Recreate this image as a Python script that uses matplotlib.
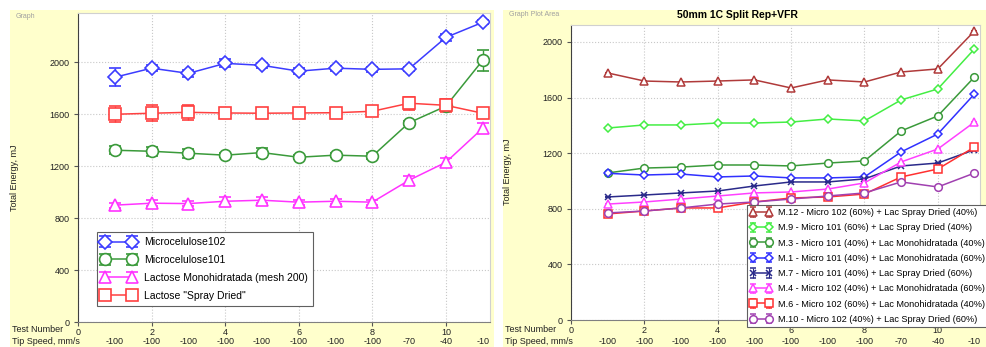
import matplotlib as mpl
import matplotlib.pyplot as plt
from matplotlib.patches import Rectangle
import numpy as np

plt.rcParams['font.family'] = ['Liberation Sans', 'DejaVu Sans']

# --- data -------------------------------------------------------------
test_number = [1, 2, 3, 4, 5, 6, 7, 8, 9, 10, 11]
tip_speed = ['-100', '-100', '-100', '-100', '-100', '-100', '-100', '-100', '-70', '-40', '-10']

# left chart: pure excipients with error bars
micro102 = [1885, 1955, 1915, 1992, 1977, 1932, 1955, 1946, 1950, 2192, 2308]
micro102_err = [70, 25, 25, 30, 20, 25, 20, 20, 15, 30, 15]
micro101 = [1323, 1315, 1300, 1285, 1305, 1269, 1285, 1277, 1535, 1662, 2015]
micro101_err = [30, 35, 35, 15, 35, 15, 15, 25, 15, 20, 80]
lac_mono = [900, 915, 912, 930, 938, 923, 930, 923, 1092, 1230, 1492]
lac_mono_err = [20, 25, 20, 30, 25, 20, 20, 20, 35, 30, 40]
lac_spray = [1600, 1608, 1615, 1610, 1608, 1610, 1612, 1623, 1685, 1669, 1608]
lac_spray_err = [60, 60, 60, 40, 40, 30, 30, 30, 50, 50, 30]

left_names = ['Microcelulose102', 'Microcelulose101',
              'Lactose Monohidratada (mesh 200)', 'Lactose "Spray Dried"']

# right chart: blends
m12 = [1777, 1719, 1712, 1719, 1727, 1669, 1727, 1712, 1784, 1806, 2079]
m9 = [1381, 1403, 1403, 1417, 1417, 1424, 1446, 1432, 1583, 1662, 1950]
m3 = [1058, 1093, 1100, 1115, 1115, 1108, 1129, 1144, 1360, 1468, 1748]
m1 = [1055, 1043, 1050, 1029, 1036, 1022, 1022, 1029, 1209, 1338, 1626]
m7 = [885, 899, 914, 928, 964, 993, 993, 1015, 1108, 1129, 1225]
m4 = [834, 849, 870, 892, 914, 921, 942, 986, 1137, 1230, 1424]
m6 = [763, 784, 806, 806, 849, 878, 885, 906, 1029, 1086, 1244]
m10 = [770, 784, 806, 834, 849, 870, 892, 914, 993, 957, 1057]

right_names = ['M.12 - Micro 102 (60%) + Lac Spray Dried (40%)',
               'M.9 - Micro 101 (60%) + Lac Spray Dried (40%)',
               'M.3 - Micro 101 (40%) + Lac Monohidratada (40%)',
               'M.1 - Micro 101 (40%) + Lac Monohidratada (60%)',
               'M.7 - Micro 101 (40%) + Lac Spray Dried (60%)',
               'M.4 - Micro 102 (40%) + Lac Monohidratada (60%)',
               'M.6 - Micro 102 (60%) + Lac Monohidratada (40%)',
               'M.10 - Micro 102 (40%) + Lac Spray Dried (60%)']

# --- figure -----------------------------------------------------------
W, H = 987, 347
fig = plt.figure(figsize=(W / 100, H / 100), dpi=100)
fig.patch.set_facecolor('white')

panel_yellow = '#FFFFCC'
text_col = '#222222'


def px_rect(x0, y0, x1, y1):
    return (x0 / W, 1 - y1 / H, (x1 - x0) / W, (y1 - y0) / H)


for (x0, y0, x1, y1) in [(10, 10, 494, 347), (503, 10, 987, 347)]:
    l, b, w, h = px_rect(x0, y0, x1, y1)
    fig.patches.append(Rectangle((l, b), w, h, transform=fig.transFigure,
                                 facecolor=panel_yellow, edgecolor='none', zorder=-10))

ax1 = fig.add_axes(px_rect(78, 13, 490, 322))
ax2 = fig.add_axes(px_rect(571, 25, 980, 320))
ax1.set_zorder(2)
ax2.set_zorder(2)

NUM_ROW_Y = 330
TIP_ROW_Y = 342


def style_axes(ax, xmax, ymax, bottom_px, height_px):
    ax.set_facecolor('white')
    ax.set_xlim(0, xmax)
    ax.set_ylim(0, ymax)
    ax.set_xticks([0, 2, 4, 6, 8, 10])
    ax.set_yticks([0, 400, 800, 1200, 1600, 2000])
    ax.tick_params(labelsize=6.5, length=3, width=0.8, color='#555555', pad=3,
                   labelcolor=text_col)
    ax.tick_params(axis='x', pad=1.0)
    ax.grid(True, linestyle=':', color='#C8C8C8', linewidth=0.8)
    ax.set_axisbelow(True)
    for side in ['top', 'right']:
        ax.spines[side].set_color('#D0D0D0')
    ax.spines['left'].set_color('#404040')
    ax.spines['bottom'].set_color('#808080')
    # second row of x labels: tip speed
    yrow = -(TIP_ROW_Y - bottom_px) / height_px
    for x, s in zip(test_number, tip_speed):
        ax.text(x, yrow, s, transform=ax.get_xaxis_transform(), ha='center',
                va='center', fontsize=6.5, color=text_col, clip_on=False)


style_axes(ax1, 11.2, 2380, 322, 309)
style_axes(ax2, 11.15, 2122, 320, 295)

# --- left chart -------------------------------------------------------
left_series = [
    (micro102, micro102_err, '#3C3CFF', 'D', 7),
    (micro101, micro101_err, '#3A9A3A', 'o', 8.5),
    (lac_mono, lac_mono_err, '#FF33FF', '^', 8.5),
    (lac_spray, lac_spray_err, '#FF4040', 's', 9),
]
for (vals, err, col, mk, ms), name in zip(left_series, left_names):
    ax1.errorbar(test_number, vals, yerr=err, color=col, marker=mk, ms=ms,
                 mfc='white', mec=col, mew=1.2, lw=1.1, capsize=4,
                 elinewidth=1.0, capthick=1.0, label=name)

leg1 = ax1.legend(loc='upper left', bbox_to_anchor=(97 / W, 1 - 232 / H),
                  bbox_transform=fig.transFigure, fontsize=7.5, frameon=True,
                  fancybox=False, edgecolor='#606060', framealpha=1, numpoints=2,
                  handlelength=3.2, labelspacing=0.75, borderpad=0.5,
                  handletextpad=0.8, borderaxespad=0)
leg1.get_frame().set_linewidth(0.8)

# --- right chart ------------------------------------------------------
right_series = [
    (m12, '#B03A3A', '^'),
    (m9, '#44EE44', 'D'),
    (m3, '#3A9A3A', 'o'),
    (m1, '#3030FF', 'D'),
    (m7, '#2A2A8A', 'x'),
    (m4, '#FF40FF', '^'),
    (m6, '#FF3030', 's'),
    (m10, '#A040B0', 'o'),
]
for (vals, col, mk), name in zip(right_series, right_names):
    ms = 4.5 if mk in ('D', 'x') else 5.5
    ax2.errorbar(test_number, vals, yerr=np.zeros(len(vals)), color=col,
                 marker=mk, ms=ms, mfc='white', mec=col, mew=1.1, lw=1.1,
                 capsize=2, elinewidth=0.8, label=name)

leg2 = ax2.legend(loc='upper left', bbox_to_anchor=(747 / W, 1 - 205 / H),
                  bbox_transform=fig.transFigure, fontsize=6.6, frameon=True,
                  fancybox=False, edgecolor='#606060', framealpha=1, numpoints=2,
                  handlelength=2.4, labelspacing=0.68, borderpad=0.35,
                  handletextpad=0.6, borderaxespad=0)
leg2.get_frame().set_linewidth(0.8)

# --- panel captions and axis titles -----------------------------------
fig.text(16 / W, 1 - 16 / H, 'Graph', fontsize=5, color='#A0A0A0', va='center')
fig.text(509 / W, 1 - 15 / H, 'Graph Plot Area', fontsize=5, color='#A0A0A0',
         va='center')
fig.text(737 / W, 1 - 15 / H, '50mm 1C Split Rep+VFR', fontsize=7.5,
         fontweight='bold', ha='center', va='center')

for x, y in [(15, 178), (507, 172)]:
    fig.text(x / W, 1 - y / H, 'Total Energy, mJ', rotation=90, fontsize=6.5,
             ha='center', va='center', color=text_col)
for x in [12, 505]:
    fig.text(x / W, 1 - NUM_ROW_Y / H, 'Test Number', fontsize=6.5, va='center',
             color=text_col)
    fig.text(x / W, 1 - TIP_ROW_Y / H, 'Tip Speed, mm/s', fontsize=6.5,
             va='center', color=text_col)

fig.savefig('out.png', dpi=100, facecolor='white')
